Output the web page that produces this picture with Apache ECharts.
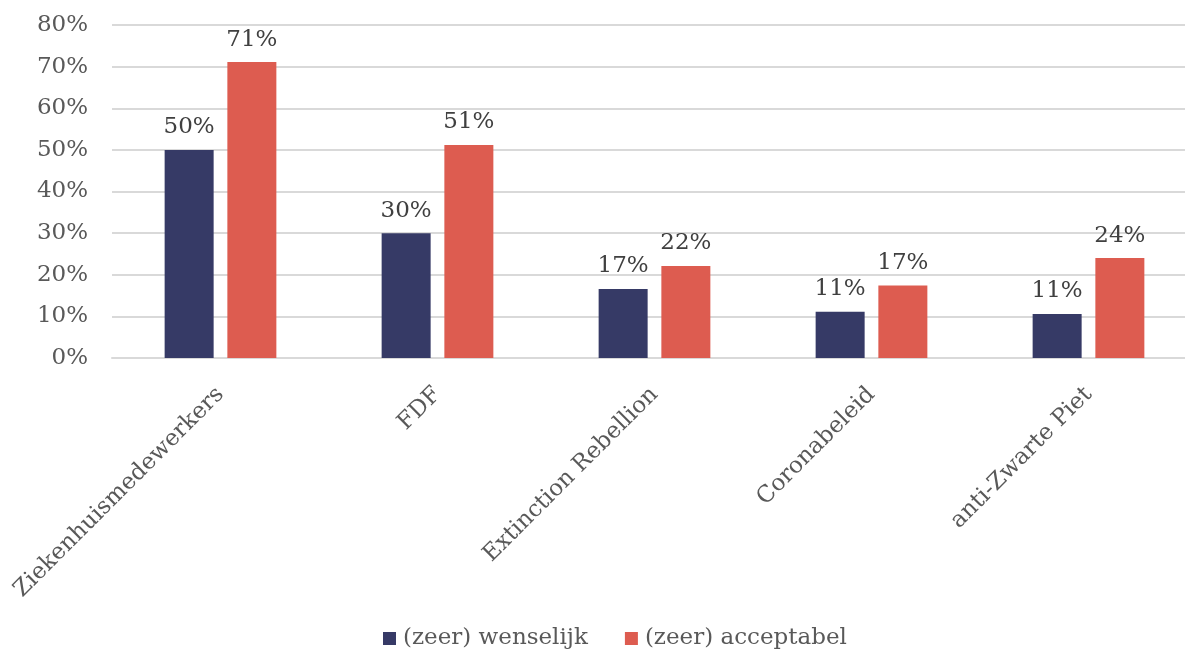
<!DOCTYPE html>
<html>
<head>
<meta charset="utf-8">
<script src="https://cdn.jsdelivr.net/npm/echarts@6/dist/echarts.min.js"></script>
<style>html,body{margin:0;padding:0;background:#fff;overflow:hidden}#c{width:1197px;height:652px}</style>
</head>
<body>
<div id="c"></div>
<script>
const categories = ['Ziekenhuismedewerkers', 'FDF', 'Extinction Rebellion', 'Coronabeleid', 'anti-Zwarte Piet'];
const seriesNames = ['(zeer) wenselijk', '(zeer) acceptabel'];
const wenselijk = [50, 30, 16.6, 11.1, 10.6];
const acceptabel = [71.1, 51.2, 22.1, 17.4, 24.0];
const yTicks = [0, 10, 20, 30, 40, 50, 60, 70, 80];

const FONT = 'DejaVu Serif';
const TXT = '#595959';
const chart = echarts.init(document.getElementById('c'));
const lbl = {
  show: true, position: 'top', distance: 11,
  fontFamily: FONT, fontSize: 23, color: '#404040',
  formatter: p => Math.round(p.value) + '%'
};
chart.setOption({
  animation: false,
  color: ['#363a66', '#dd5c50'],
  grid: { left: 112, right: 0, top: 25, bottom: 294 },
  legend: {
    bottom: -3, left: 378, itemWidth: 13, itemHeight: 13, itemGap: 37,
    icon: 'rect',
    textStyle: { fontFamily: FONT, fontSize: 23, color: TXT, padding: [0, 0, 0, 2] },
    data: seriesNames
  },
  xAxis: {
    type: 'category', data: categories,
    axisLine: { show: true, lineStyle: { color: '#d9d9d9', width: 2 } },
    axisTick: { show: false },
    axisLabel: { rotate: 45, margin: 33, fontFamily: FONT, fontSize: 23, color: TXT, interval: 0 }
  },
  yAxis: {
    type: 'value', min: yTicks[0], max: yTicks[yTicks.length - 1], interval: 10,
    axisLine: { show: false }, axisTick: { show: false },
    splitLine: { lineStyle: { color: '#d9d9d9', width: 2 } },
    axisLabel: { margin: 24, fontFamily: FONT, fontSize: 23, color: TXT, formatter: v => v + '%' }
  },
  series: [
    { name: seriesNames[0], type: 'bar', data: wenselijk, barWidth: 49, barGap: '28%', label: lbl },
    { name: seriesNames[1], type: 'bar', data: acceptabel, barWidth: 49, barGap: '28%', label: lbl }
  ]
});
</script>
</body>
</html>
